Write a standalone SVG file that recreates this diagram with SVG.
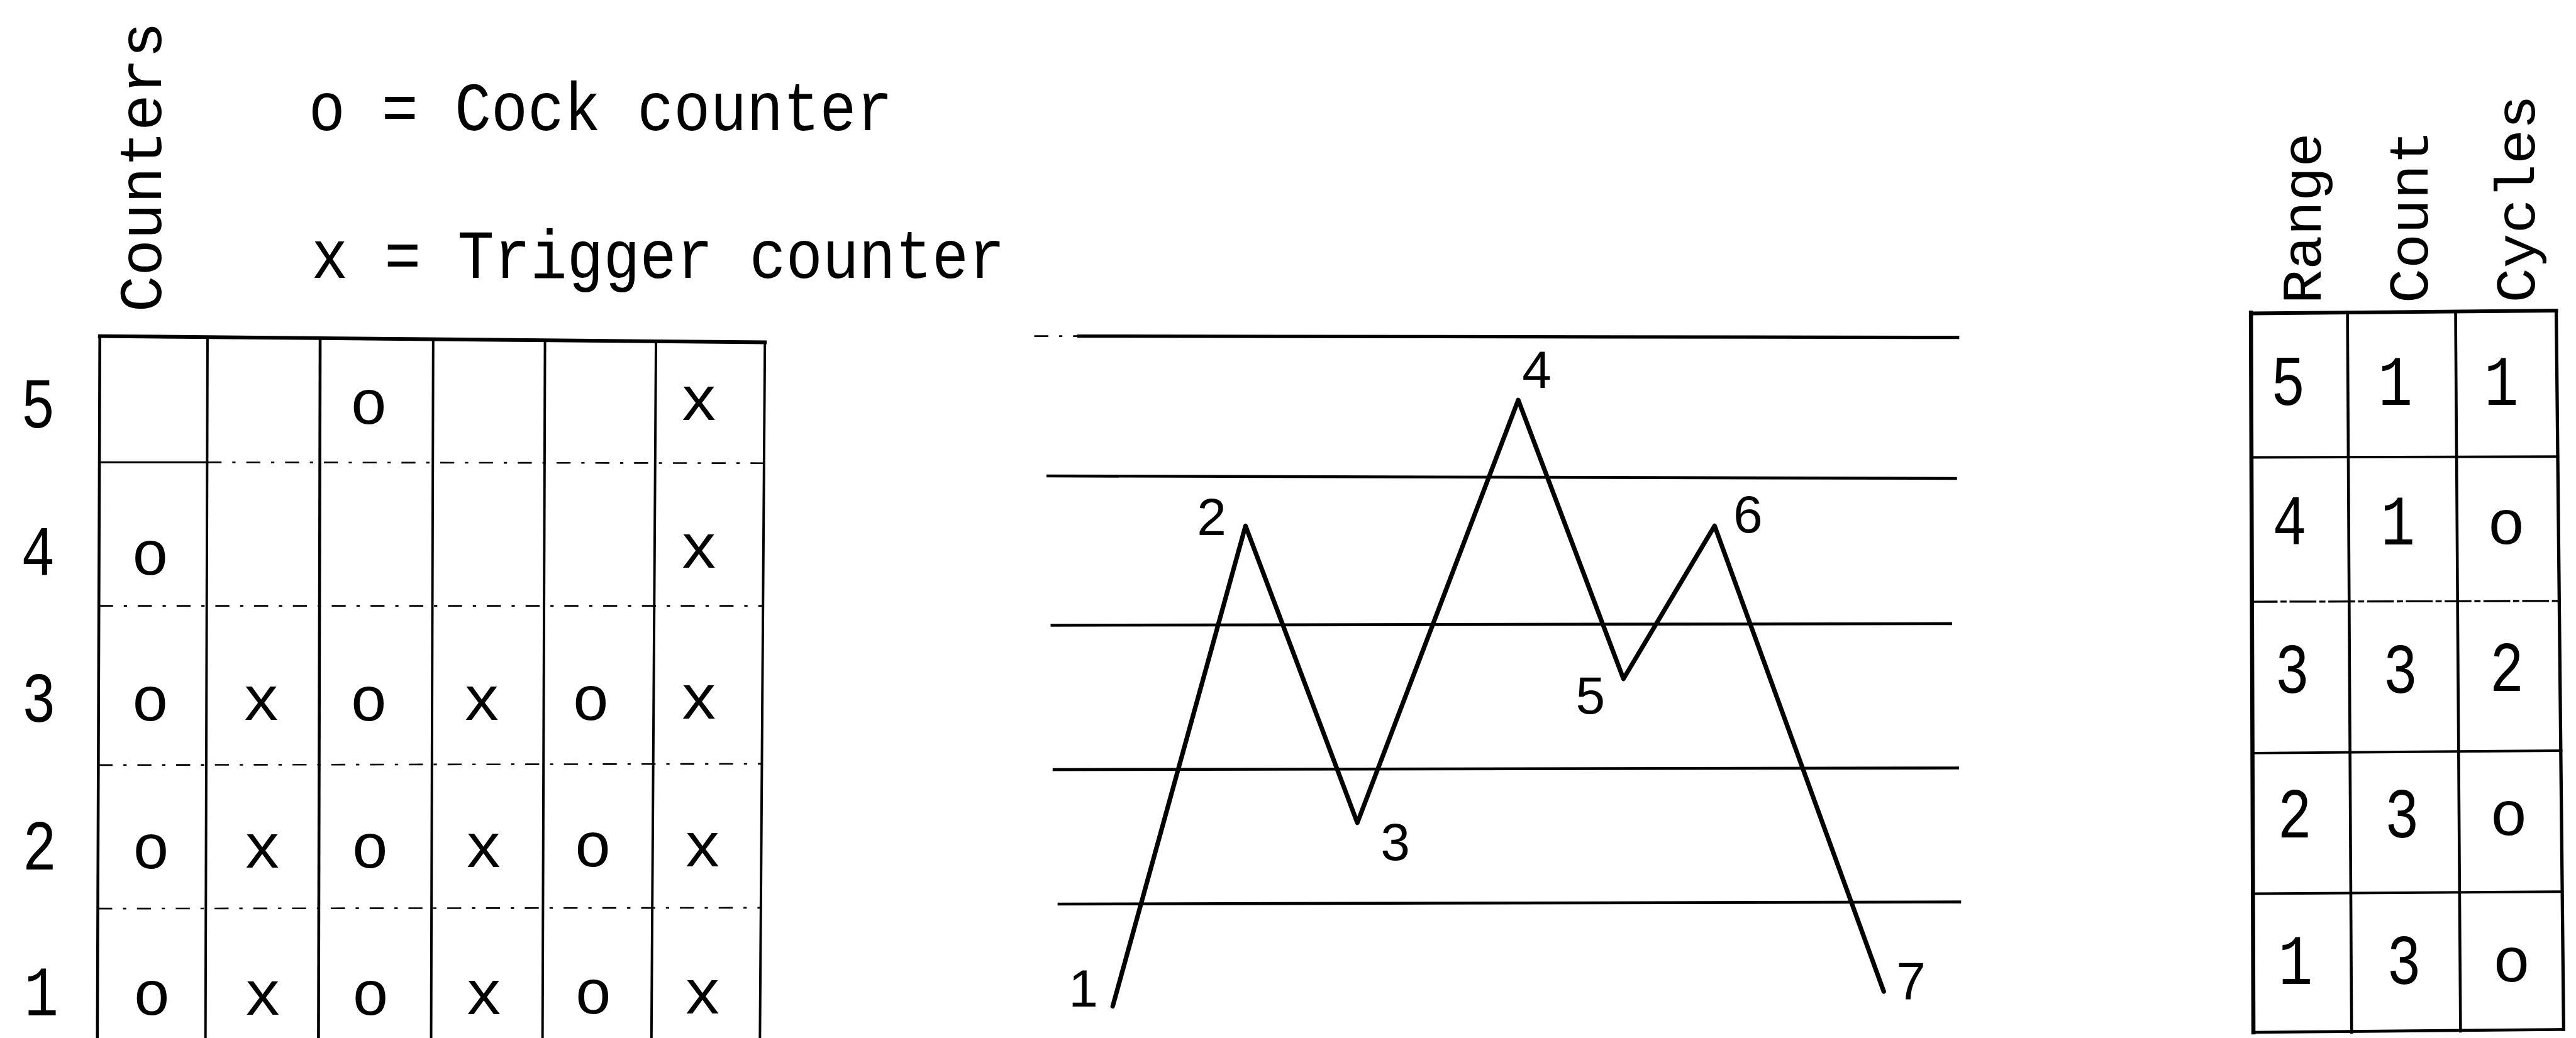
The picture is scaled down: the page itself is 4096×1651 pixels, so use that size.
<svg xmlns="http://www.w3.org/2000/svg" width="4096" height="1651" viewBox="0 0 4096 1651">
<style>
.mono{font-family:"Liberation Mono","Courier New",monospace;fill:#000}
.sans{font-family:"Liberation Sans",Arial,sans-serif;fill:#000;font-size:128px;text-anchor:middle}
.leg{font-size:168px}
.hdr{font-size:135px}
.dig{font-size:173px;text-anchor:middle}
.ox{font-size:153px;text-anchor:middle}
.ln{stroke:#000;fill:none;stroke-linecap:square}
.dash{stroke:#000;fill:none;stroke-width:4;stroke-dasharray:34 26 8 26}
</style>
<rect width="4096" height="1651" fill="#fff"/>
<g transform="scale(0.656)">
<g id="legend">
<text class="mono leg" x="748" y="315" textLength="1416" lengthAdjust="spacingAndGlyphs">o = Cock counter</text>
<text class="mono leg" x="755" y="674" textLength="1681" lengthAdjust="spacingAndGlyphs">x = Trigger counter</text>
<text class="mono" font-size="146" transform="translate(391,757) rotate(-90)" textLength="704" lengthAdjust="spacingAndGlyphs">Counters</text>
</g>
<g id="left-table">
<line class="ln" stroke-width="9" x1="242" y1="815" x2="1854" y2="830"/>
<line class="ln" stroke-width="7" x1="242" y1="815" x2="236" y2="2517"/>
<line class="ln" stroke-width="6" x1="503" y1="818" x2="498" y2="2517"/>
<line class="ln" stroke-width="7" x1="776" y1="820" x2="772" y2="2517"/>
<line class="ln" stroke-width="6" x1="1050" y1="823" x2="1045" y2="2517"/>
<line class="ln" stroke-width="6" x1="1321" y1="826" x2="1315" y2="2517"/>
<line class="ln" stroke-width="6" x1="1590" y1="828" x2="1579" y2="2517"/>
<line class="ln" stroke-width="6" x1="1854" y1="830" x2="1842" y2="2517"/>
<line class="ln" stroke-width="5" x1="242" y1="1121" x2="503" y2="1121"/>
<line class="dash" x1="503" y1="1121" x2="1852" y2="1123"/>
<line class="dash" x1="240" y1="1469" x2="1850" y2="1469"/>
<line class="dash" x1="239" y1="1855" x2="1848" y2="1852"/>
<line class="dash" x1="238" y1="2203" x2="1846" y2="2201"/>
<text class="mono dig" x="92" y="1037" textLength="83" lengthAdjust="spacingAndGlyphs">5</text>
<text class="mono dig" x="92" y="1395" textLength="83" lengthAdjust="spacingAndGlyphs">4</text>
<text class="mono dig" x="94" y="1750" textLength="83" lengthAdjust="spacingAndGlyphs">3</text>
<text class="mono dig" x="96" y="2108" textLength="83" lengthAdjust="spacingAndGlyphs">2</text>
<text class="mono dig" x="100" y="2462" textLength="83" lengthAdjust="spacingAndGlyphs">1</text>
<text class="mono ox" x="894" y="1027">o</text>
<text class="mono ox" x="1694" y="1018">x</text>
<text class="mono ox" x="364" y="1393">o</text>
<text class="mono ox" x="1694" y="1376">x</text>
<text class="mono ox" x="364" y="1747">o</text>
<text class="mono ox" x="633" y="1745">x</text>
<text class="mono ox" x="894" y="1747">o</text>
<text class="mono ox" x="1168" y="1745">x</text>
<text class="mono ox" x="1432" y="1745">o</text>
<text class="mono ox" x="1694" y="1743">x</text>
<text class="mono ox" x="366" y="2105">o</text>
<text class="mono ox" x="636" y="2103">x</text>
<text class="mono ox" x="897" y="2104">o</text>
<text class="mono ox" x="1172" y="2102">x</text>
<text class="mono ox" x="1437" y="2101">o</text>
<text class="mono ox" x="1703" y="2100">x</text>
<text class="mono ox" x="368" y="2461">o</text>
<text class="mono ox" x="637" y="2460">x</text>
<text class="mono ox" x="898" y="2460">o</text>
<text class="mono ox" x="1173" y="2459">x</text>
<text class="mono ox" x="1438" y="2458">o</text>
<text class="mono ox" x="1703" y="2457">x</text>
</g>
<g id="chart">
<line class="dash" stroke-width="5" x1="2507" y1="815" x2="2615" y2="815"/>
<line class="ln" stroke-width="8" x1="2615" y1="815" x2="4745" y2="818"/>
<line class="ln" stroke-width="7" x1="2540" y1="1154" x2="4740" y2="1160"/>
<line class="ln" stroke-width="7" x1="2550" y1="1516" x2="4728" y2="1512"/>
<line class="ln" stroke-width="7" x1="2555" y1="1866" x2="4745" y2="1862"/>
<line class="ln" stroke-width="7" x1="2567" y1="2192" x2="4750" y2="2187"/>
<text class="sans" x="2626" y="2440">1</text>
<text class="sans" x="2937" y="1297">2</text>
<text class="sans" x="3382" y="2085">3</text>
<text class="sans" x="3725" y="940">4</text>
<text class="sans" x="3855" y="1730">5</text>
<text class="sans" x="4237" y="1291">6</text>
<text class="sans" x="4632" y="2423">7</text>
</g>
<g id="connectors">
<path d="M2697 2440 L3019 1275 L3290 1995 L3680 970 L3935 1646 L4156 1275 L4566 2404" fill="none" stroke="#000" stroke-width="11" stroke-linejoin="round" stroke-linecap="round"/>
</g>
<g id="right-table">
<line class="ln" stroke-width="9" x1="5456" y1="760" x2="6196" y2="753"/>
<line class="ln" stroke-width="10" x1="5456" y1="758" x2="5462" y2="2503"/>
<line class="ln" stroke-width="7" x1="5690" y1="757" x2="5700" y2="2503"/>
<line class="ln" stroke-width="7" x1="5952" y1="756" x2="5964" y2="2500"/>
<line class="ln" stroke-width="8" x1="6196" y1="753" x2="6214" y2="2496"/>
<line class="ln" stroke-width="6" x1="5458" y1="1109" x2="6200" y2="1107"/>
<line class="ln" stroke-width="5" stroke-dasharray="60 12 10 12" x1="5458" y1="1459" x2="6204" y2="1457"/>
<line class="ln" stroke-width="6" x1="5460" y1="1826" x2="6208" y2="1820"/>
<line class="ln" stroke-width="6" x1="5460" y1="2167" x2="6210" y2="2162"/>
<line class="ln" stroke-width="7" x1="5462" y1="2503" x2="6214" y2="2496"/>
<text class="mono hdr" transform="translate(5625,737) rotate(-90)" textLength="415" lengthAdjust="spacingAndGlyphs">Range</text>
<text class="mono hdr" transform="translate(5884,735) rotate(-90)" textLength="420" lengthAdjust="spacingAndGlyphs">Count</text>
<text class="mono hdr" transform="translate(6143,734) rotate(-90)" textLength="504" lengthAdjust="spacingAndGlyphs">Cycles</text>
<text class="mono dig" x="5546" y="982" textLength="83" lengthAdjust="spacingAndGlyphs">5</text>
<text class="mono dig" x="5806" y="982" textLength="83" lengthAdjust="spacingAndGlyphs">1</text>
<text class="mono dig" x="6063" y="982" textLength="83" lengthAdjust="spacingAndGlyphs">1</text>
<text class="mono dig" x="5550" y="1320" textLength="83" lengthAdjust="spacingAndGlyphs">4</text>
<text class="mono dig" x="5812" y="1320" textLength="83" lengthAdjust="spacingAndGlyphs">1</text>
<text class="mono ox" x="6075" y="1318">o</text>
<text class="mono dig" x="5556" y="1680" textLength="83" lengthAdjust="spacingAndGlyphs">3</text>
<text class="mono dig" x="5818" y="1680" textLength="83" lengthAdjust="spacingAndGlyphs">3</text>
<text class="mono dig" x="6076" y="1676" textLength="83" lengthAdjust="spacingAndGlyphs">2</text>
<text class="mono dig" x="5562" y="2030" textLength="83" lengthAdjust="spacingAndGlyphs">2</text>
<text class="mono dig" x="5822" y="2030" textLength="83" lengthAdjust="spacingAndGlyphs">3</text>
<text class="mono ox" x="6081" y="2025">o</text>
<text class="mono dig" x="5564" y="2386" textLength="83" lengthAdjust="spacingAndGlyphs">1</text>
<text class="mono dig" x="5827" y="2386" textLength="83" lengthAdjust="spacingAndGlyphs">3</text>
<text class="mono ox" x="6088" y="2380">o</text>
</g>
</g>
</svg>
